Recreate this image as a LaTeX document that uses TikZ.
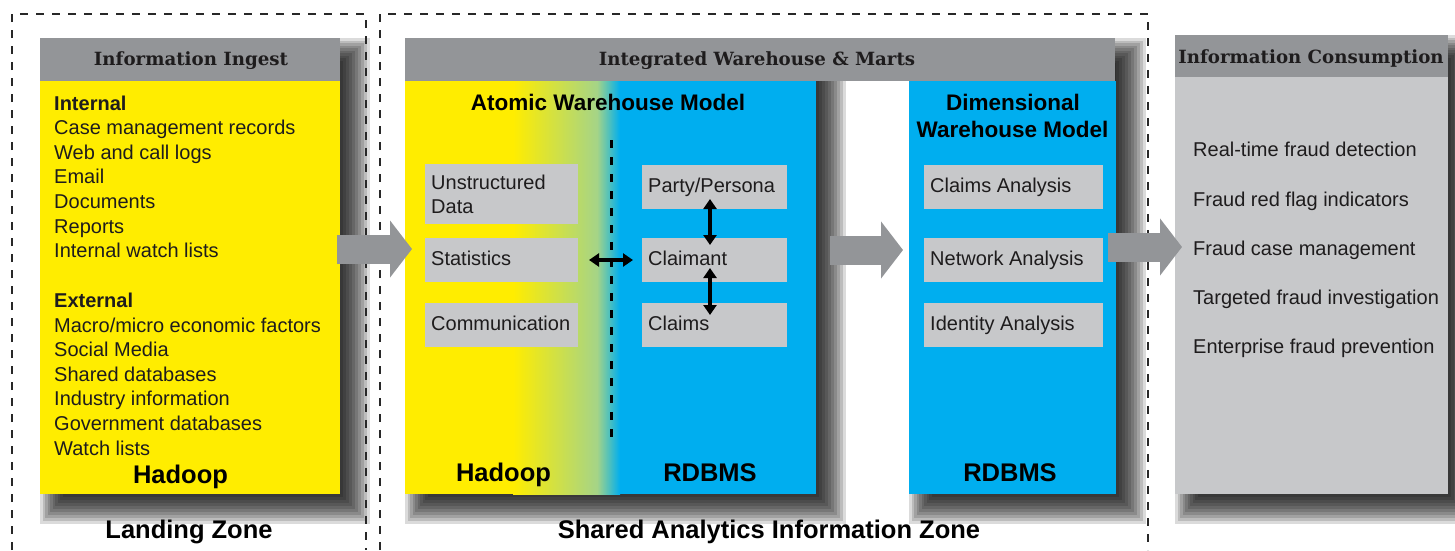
\documentclass[tikz,border=0pt]{standalone}
\usepackage{fontspec}
\setmainfont{Liberation Sans}
\newfontfamily\hfont{DejaVu Serif}
\usetikzlibrary{arrows.meta}
\definecolor{ybg}{RGB}{255,237,0}
\definecolor{cyb}{RGB}{0,174,239}
\definecolor{hdrg}{RGB}{147,149,152}
\definecolor{lbox}{RGB}{199,200,202}
\definecolor{ink}{RGB}{30,28,29}
\definecolor{midg}{RGB}{165,212,135}
\definecolor{zonec}{RGB}{40,40,40}
% soft drop shadow to the lower right: corners (x1,y1) (x2,y2) in picture units
\newcommand\dropshade[4]{%
  \foreach \k in {0,...,11}{%
    \fill[black,opacity=0.14] ({#1+2.5*\k},{#2+2.5*\k}) rectangle ({#3+30-3*\k},{#4+30-3*\k});
  }}
\begin{document}
\begin{tikzpicture}[x=1pt,y=-1pt,
  panel/.style={rectangle,inner sep=0pt,outer sep=0pt,anchor=north west,draw=none},
  sz/.style 2 args={minimum width=#1pt,minimum height=#2pt},
  hdr/.style={panel,fill=hdrg},
  ypanel/.style={panel,fill=ybg},
  cpanel/.style={panel,fill=cyb},
  gpanel/.style={panel,fill=lbox},
  subbox/.style={panel,fill=lbox},
  zone/.style={draw=zonec,line width=1.3pt,dash pattern=on 8pt off 8pt},
  sep/.style={draw=black,line width=3pt,dash pattern=on 8pt off 9pt},
  bigarrow/.style={draw=hdrg,line width=29pt,-{Triangle[width=56pt,length=22pt]}},
  dbl/.style={draw=black,line width=3.8pt,{Triangle[width=13pt,length=10pt]}-{Triangle[width=13pt,length=10pt]}},
  item/.style={inner sep=0pt,anchor=base west,text=ink,font=\fontsize{20}{24}\selectfont},
  bitem/.style={item,font=\fontsize{20}{24}\selectfont\bfseries},
  htxt/.style={inner sep=0pt,anchor=base,text=ink,font=\hfont\bfseries\fontsize{18.2}{22}\selectfont},
  title/.style={inner sep=0pt,anchor=base,text=black,font=\fontsize{22.5}{27}\selectfont\bfseries},
  tech/.style={inner sep=0pt,anchor=base,text=black,font=\fontsize{25.5}{30}\selectfont\bfseries},
]
\useasboundingbox (0,0) rectangle (1455,550);

% ---------- shadows ----------
\dropshade{40}{38}{340}{494}
\dropshade{405}{38}{816}{494}
\dropshade{909}{38}{1116}{494}
\dropshade{1175}{35}{1448}{494}

% ---------- Landing zone panel ----------
\node[hdr,sz={300}{43}] (ingesthdr) at (40,38) {};
\node[ypanel,sz={300}{413}] (landing) at (40,81) {};

% ---------- Shared zone panels ----------
\node[hdr,sz={710}{43}] (iwhdr) at (405,38) {};
\node[ypanel,sz={411}{413}] (atomic) at (405,81) {};
\node[cpanel,sz={207}{413}] (dim) at (909,81) {};
\shade[left color=ybg,right color=midg] ([xshift=108pt]atomic.north west) rectangle ([xshift=-219pt]atomic.south east);
\shade[left color=midg,right color=cyb] ([xshift=192pt]atomic.north west) rectangle ([xshift=-196pt]atomic.south east);
\fill[cyb] ([xshift=215pt]atomic.north west) rectangle (atomic.south east);

% ---------- Consumption panel ----------
\node[hdr,sz={273}{42}] (conshdr) at (1175,35) {};
\node[gpanel,sz={273}{417}] (cons) at (1175,77) {};

% ---------- inner boxes ----------
\node[subbox,sz={153}{60}] (unstr) at (425,164) {};
\node[subbox,sz={153}{44}] (stats) at (425,238) {};
\node[subbox,sz={153}{44}] (comm) at (425,303) {};
\node[subbox,sz={145}{44}] (party) at (642,165) {};
\node[subbox,sz={145}{44}] (claimant) at (642,238) {};
\node[subbox,sz={145}{44}] (claims) at (642,303) {};
\node[subbox,sz={179}{44}] (clan) at (924,165) {};
\node[subbox,sz={179}{44}] (netan) at (924,238) {};
\node[subbox,sz={179}{44}] (idan) at (924,303) {};

% separator between Hadoop and RDBMS parts
\coordinate (septop) at (611,140);
\coordinate (sepbot) at (611,443);
\draw[sep] (septop) -- (sepbot);

% ---------- dashed zones ----------
\draw[zone] (12,550) -- (12,14) -- (366,14) -- (366,550);
\draw[zone] (380,550) -- (380,14) -- (1148,14) -- (1148,550);

% ---------- big arrows ----------
\coordinate (a1s) at (337,249);
\coordinate (a1e) at (412,249);
\coordinate (a2s) at (830,250);
\coordinate (a2e) at (903,250);
\coordinate (a3s) at (1108,247);
\coordinate (a3e) at (1182,247);
\draw[bigarrow] (a1s) -- (a1e);
\draw[bigarrow] (a2s) -- (a2e);
\draw[bigarrow] (a3s) -- (a3e);

% ---------- double arrows ----------
\draw[dbl] ([xshift=-4.5pt,yshift=10pt]party.south) -- ([xshift=-4.5pt,yshift=-7pt]claimant.north);
\draw[dbl] ([xshift=-4.5pt,yshift=14pt]claimant.south) -- ([xshift=-4.5pt,yshift=-12pt]claims.north);
\draw[dbl] ([xshift=11pt]stats.east) -- ([xshift=-9pt]claimant.west);

% ---------- header texts ----------
\node[htxt] (t-ingest) at (191,65.7) {Information Ingest};
\node[htxt] (t-iw) at (757,65.7) {Integrated Warehouse \& Marts};
\node[htxt] (t-cons) at (1311,63.3) {Information Consumption};

% ---------- landing list ----------
\node[bitem] (t-internal) at (54,110) {Internal};
\foreach \s [count=\i] in {Case management records,Web and call logs,Email,Documents,Reports,Internal watch lists}
  \node[item] (int\i) at (54,{110+24.65*\i}) {\s};
\node[bitem] (t-external) at (54,307.5) {External};
\foreach \s [count=\i] in {Macro/micro economic factors,Social Media,Shared databases,Industry information,Government databases,Watch lists}
  \node[item] (ext\i) at (54,{307.5+24.6*\i}) {\s};
\node[tech] (t-had1) at (180.5,483) {Hadoop};

% ---------- atomic / dimensional ----------
\node[title] (t-atomic) at (608,110) {Atomic Warehouse Model};
\node[title] (t-dim1) at (1013,110) {Dimensional};
\node[title] (t-dim2) at (1012.5,137.7) {Warehouse Model};
\node[tech] (t-had2) at (503.5,481.7) {Hadoop};
\node[tech] (t-rdb1) at (710,481.7) {RDBMS};
\node[tech] (t-rdb2) at (1010,481.7) {RDBMS};

% ---------- box texts ----------
\node[item] (t-unstr1) at (431,189.3) {Unstructured};
\node[item] (t-unstr2) at (431,213.3) {Data};
\node[item] (t-stats) at (431,265.7) {Statistics};
\node[item] (t-comm) at (431,330) {Communication};
\node[item] (t-party) at (648,192.7) {Party/Persona};
\node[item] (t-claimant) at (648,265.7) {Claimant};
\node[item] (t-claims) at (648,330) {Claims};
\node[item] (t-clan) at (930,192.7) {Claims Analysis};
\node[item] (t-netan) at (930,265.7) {Network Analysis};
\node[item] (t-idan) at (930,330) {Identity Analysis};

% ---------- consumption list ----------
\foreach \s [count=\i] in {Real-time fraud detection,Fraud red flag indicators,Fraud case management,Targeted fraud investigation,Enterprise fraud prevention}
  \node[item] (cons\i) at (1193,{156.7+49.3*(\i-1)}) {\s};

% ---------- zone labels ----------
\node[tech] (z-landing) at (189,538) {Landing Zone};
\node[tech] (z-shared) at (769,538) {Shared Analytics Information Zone};
\end{tikzpicture}
\end{document}
